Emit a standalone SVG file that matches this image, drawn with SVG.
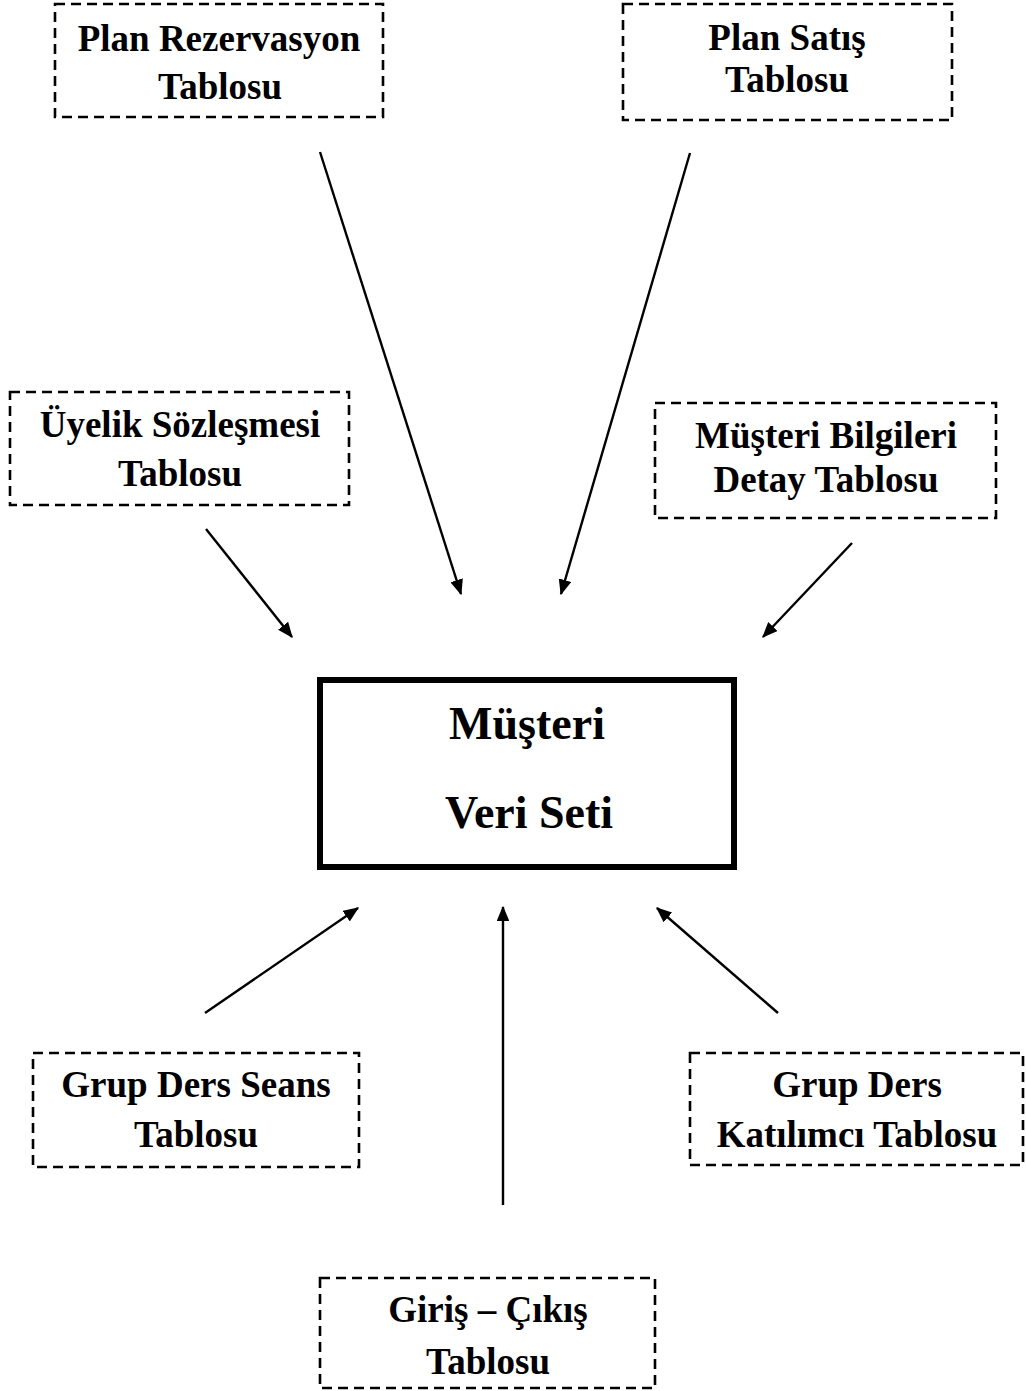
<svg xmlns="http://www.w3.org/2000/svg" width="1026" height="1391" viewBox="0 0 1026 1391">
<style>
.box{fill:#fff;stroke:#000;stroke-width:2.6;stroke-dasharray:10 6}
.main{fill:#fff;stroke:#000;stroke-width:6}
.t{font-family:"Liberation Serif","Times New Roman",serif;font-weight:bold;font-size:37px;text-anchor:middle;fill:#000}
.tm{font-family:"Liberation Serif","Times New Roman",serif;font-weight:bold;font-size:46px;text-anchor:middle;fill:#000}
.c{stroke:#000;stroke-width:2.4;fill:none;marker-end:url(#ah)}
</style>
<defs>
<marker id="ah" markerWidth="6.5" markerHeight="5.4" refX="6" refY="2.7" orient="auto" markerUnits="strokeWidth">
<path d="M0,0 L6.5,2.7 L0,5.4 z" fill="#000"/>
</marker>
</defs>
<rect width="1026" height="1391" fill="#fff"/>
<g id="connectors">
<line class="c" x1="320" y1="152" x2="461" y2="594"/>
<line class="c" x1="690" y1="153" x2="561" y2="594"/>
<line class="c" x1="206" y1="529" x2="292" y2="637"/>
<line class="c" x1="852" y1="543" x2="763" y2="637"/>
<line class="c" x1="205" y1="1013" x2="358" y2="908"/>
<line class="c" x1="503" y1="1205" x2="503" y2="907"/>
<line class="c" x1="778" y1="1013" x2="657" y2="908"/>
</g>
<g id="n-plan-rezervasyon">
<rect class="box" x="55" y="4" width="328" height="113"/>
<text class="t" x="219" y="51">Plan Rezervasyon</text>
<text class="t" x="220" y="99">Tablosu</text>
</g>
<g id="n-plan-satis">
<rect class="box" x="623" y="4" width="329" height="116"/>
<text class="t" x="787" y="50">Plan Satış</text>
<text class="t" x="787" y="92">Tablosu</text>
</g>
<g id="n-uyelik">
<rect class="box" x="10" y="392" width="339" height="113"/>
<text class="t" x="180" y="437">Üyelik Sözleşmesi</text>
<text class="t" x="180" y="486">Tablosu</text>
</g>
<g id="n-musteri-bilgileri">
<rect class="box" x="655" y="403" width="341" height="115"/>
<text class="t" x="826" y="448">Müşteri Bilgileri</text>
<text class="t" x="826" y="492">Detay Tablosu</text>
</g>
<g id="n-musteri-veri-seti">
<rect class="main" x="320" y="680" width="414" height="187"/>
<text class="tm" x="527" y="739">Müşteri</text>
<text class="tm" x="529" y="828">Veri Seti</text>
</g>
<g id="n-grup-ders-seans">
<rect class="box" x="33" y="1053" width="326" height="114"/>
<text class="t" x="196" y="1097">Grup Ders Seans</text>
<text class="t" x="196" y="1147">Tablosu</text>
</g>
<g id="n-grup-ders-katilimci">
<rect class="box" x="690" y="1053" width="333" height="112"/>
<text class="t" x="857" y="1097">Grup Ders</text>
<text class="t" x="857" y="1147">Katılımcı Tablosu</text>
</g>
<g id="n-giris-cikis">
<rect class="box" x="320" y="1278" width="335" height="110"/>
<text class="t" x="488" y="1322">Giriş – Çıkış</text>
<text class="t" x="488" y="1374">Tablosu</text>
</g>
</svg>
